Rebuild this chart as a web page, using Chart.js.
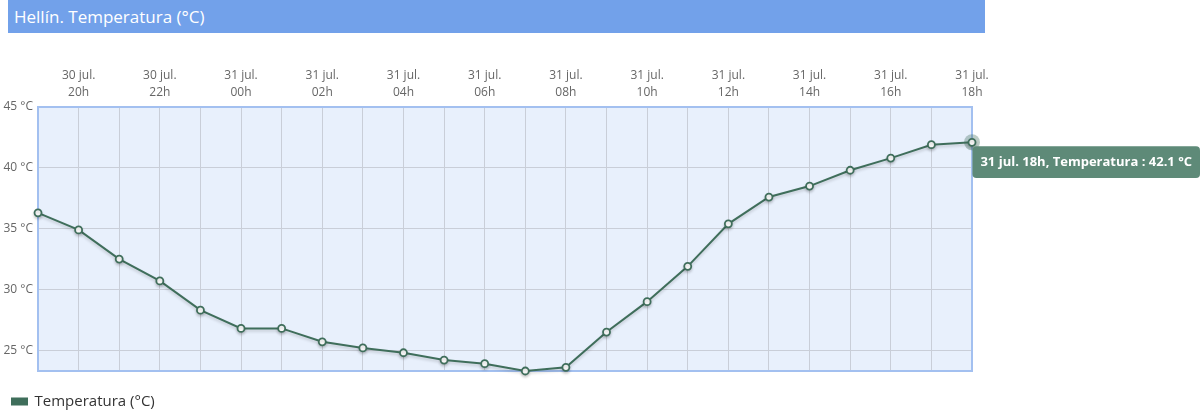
<!DOCTYPE html>
<html>
<head>
<meta charset="utf-8">
<script src="https://cdn.jsdelivr.net/npm/chart.js@4/dist/chart.umd.min.js"></script>
<style>
  html,body{margin:0;padding:0;background:#fff;width:1200px;height:419px;overflow:hidden;font-family:"Open Sans",sans-serif;}
  #title{position:absolute;left:8px;top:0;width:977px;height:33px;background:#72a1ea;color:#fff;font-size:17px;line-height:33px;box-sizing:border-box;padding-left:6px;z-index:2;}
  #wrap{position:absolute;left:0;top:0;width:1200px;height:419px;}
</style>
</head>
<body>
<div id="title">Hellín. Temperatura (°C)</div>
<div id="wrap"><canvas id="c" width="1200" height="419"></canvas></div>
<script>
const days = ['30 jul.','30 jul.','30 jul.','30 jul.','30 jul.','31 jul.','31 jul.','31 jul.','31 jul.','31 jul.','31 jul.','31 jul.','31 jul.','31 jul.','31 jul.','31 jul.','31 jul.','31 jul.','31 jul.','31 jul.','31 jul.','31 jul.','31 jul.','31 jul.'];
const hours = ['19h','20h','21h','22h','23h','00h','01h','02h','03h','04h','05h','06h','07h','08h','09h','10h','11h','12h','13h','14h','15h','16h','17h','18h'];
const temperatura = [36.3,34.9,32.5,30.7,28.3,26.8,26.8,25.7,25.2,24.8,24.2,23.9,23.3,23.6,26.5,29.0,31.9,35.4,37.6,38.5,39.8,40.8,41.9,42.1];
const yTicks = [25,30,35,40,45];
const seriesName = 'Temperatura (°C)';
const tooltipName = 'Temperatura';

const labels = hours.map((h,i)=>[days[i], h]);
const lineColor = '#3f6e5b';

Chart.Tooltip.positioners.fixedRight = function(items){
  if(!items.length) return false;
  const el = items[0].element;
  return {x: el.x + 8, y: el.y + 4};
};

const areaPlugin = {
  id:'area',
  beforeDraw(chart){
    const {ctx, chartArea:a} = chart;
    ctx.save();
    ctx.fillStyle = '#e8f0fc';
    ctx.fillRect(a.left, a.top, a.right-a.left, a.bottom-a.top);
    ctx.restore();
  },
  beforeDatasetsDraw(chart){
    const {ctx, chartArea:a} = chart;
    ctx.save();
    ctx.strokeStyle = '#a3c0f0';
    ctx.lineWidth = 2;
    ctx.strokeRect(a.left, a.top, a.right-a.left, a.bottom-a.top);
    const act = chart.getActiveElements();
    act.forEach(e=>{
      ctx.beginPath();
      ctx.fillStyle = 'rgba(63,110,91,0.35)';
      ctx.arc(e.element.x, e.element.y, 8, 0, Math.PI*2);
      ctx.fill();
    });
    ctx.restore();
  },
  beforeDatasetDraw(chart){
    const ctx = chart.ctx;
    ctx.save();
    ctx.shadowColor = 'rgba(0,0,0,0.18)';
    ctx.shadowBlur = 3;
    ctx.shadowOffsetY = 2;
  },
  afterDatasetDraw(chart){
    chart.ctx.restore();
  },
  afterLayout(chart){
    const lg = chart.legend;
    if(lg){ lg.top += 11; lg.bottom += 11; }
  }
};

const chart = new Chart(document.getElementById('c'), {
  type:'line',
  data:{
    labels: labels,
    datasets:[{
      label: seriesName,
      data: temperatura,
      borderColor: lineColor,
      backgroundColor: lineColor,
      borderWidth: 2,
      pointRadius: 3.5,
      pointBorderWidth: 1.8,
      pointBackgroundColor: '#fff',
      pointBorderColor: lineColor,
      pointHoverRadius: 3.5,
      pointHoverBorderWidth: 1.8,
      pointHoverBackgroundColor: '#fff',
      pointHoverBorderColor: lineColor,
      tension: 0,
      clip: false
    }]
  },
  options:{
    responsive:false,
    animation:false,
    events:[],
    layout:{padding:{left:0,right:228,top:0,bottom:11}},
    scales:{
      x:{
        type:'category',
        position:'top',
        offset:false,
        grid:{color:'#c9ced8', lineWidth:1, drawTicks:false},
        border:{display:false},
        ticks:{
          autoSkip:false, maxRotation:0, padding:6,
          color:'#666', font:{family:'"Open Sans"', size:12, lineHeight:1.4},
          callback:function(v,i){ return (i%2===1) ? labels[i] : ''; }
        },
        afterFit(s){ s.height = 107; }
      },
      y:{
        min:23.3, max:45,
        grid:{color:'#c9ced8', lineWidth:1, drawTicks:false},
        border:{display:false},
        afterBuildTicks(s){ s.ticks = yTicks.map(v=>({value:v})); },
        ticks:{
          padding:5, color:'#666', font:{family:'"Open Sans"', size:12},
          callback:(v)=> v + ' °C'
        },
        afterFit(s){ s.width = 38; }
      }
    },
    plugins:{
      legend:{
        position:'bottom', align:'start',
        labels:{boxWidth:15, boxHeight:6, padding:12, color:'#333', font:{family:'"Open Sans"', size:15}}
      },
      tooltip:{
        enabled:true,
        position:'fixedRight',
        xAlign:'left', yAlign:'top',
        caretSize:0, caretPadding:0, cornerRadius:4,
        backgroundColor:'#5e8a78',
        displayColors:false,
        padding:{x:8,y:8},
        bodyFont:{family:'"Open Sans"', size:13, weight:'bold'},
        bodyColor:'#fff',
        callbacks:{
          title:()=>[],
          label:(ctx)=> days[ctx.dataIndex] + ' ' + hours[ctx.dataIndex] + ', ' + tooltipName + ' : ' + ctx.parsed.y.toFixed(1) + ' °C'
        }
      }
    }
  },
  plugins:[areaPlugin]
});

const last = temperatura.length - 1;
chart.setActiveElements([{datasetIndex:0, index:last}]);
const m = chart.getDatasetMeta(0).data[last];
chart.tooltip.setActiveElements([{datasetIndex:0, index:last}], {x:m.x, y:m.y});
chart.update('none');
</script>
</body>
</html>
